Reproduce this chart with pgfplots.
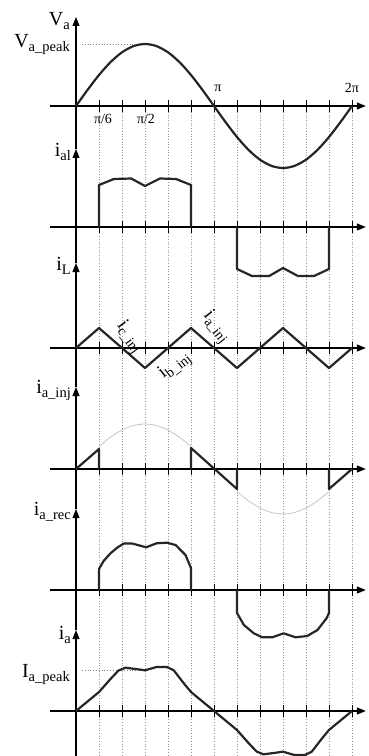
\documentclass[border=0pt]{standalone}
\usepackage{fontspec}
\setmainfont{Liberation Serif}
\usepackage{pgfplots}
\pgfplotsset{compat=1.18}
\usetikzlibrary{arrows.meta}

% one unit of x = pi/6, one unit of y = 1pt
\pgfplotsset{
  panel/.style={
    x=23pt, y=1pt, anchor=origin,
    axis lines=middle, enlargelimits=false, clip=false,
    xmin=-1.13, xmax=12.6,
    xtick={1,...,12}, xticklabels={}, ytick=\empty,
    major tick length=12pt, tick align=center,
    tick style={black, line width=0.9pt},
    axis line style={line width=1.1pt},
    every inner x axis line/.append style={-{Triangle[length=9pt,width=7pt]}},
    every inner y axis line/.append style={-{Triangle[length=9pt,width=7pt]}},
  },
  wave/.style={black!85, line width=2.2pt, line join=round},
  guide/.style={gray, line width=0.8pt, dotted},
}
\newcommand{\lbl}[2]{{\fontsize{20}{20}\selectfont #1}{\fontsize{14.5}{14.5}\selectfont\raisebox{-4pt}{#2}}}
\newcommand{\rlbl}[2]{{\fontsize{19}{19}\selectfont #1}{\fontsize{14}{14}\selectfont\raisebox{-3.5pt}{#2}}}

\begin{document}
\begin{tikzpicture}
\useasboundingbox (0pt,0pt) rectangle (368pt,-756pt);

% dotted grid behind all panels
\begin{axis}[x=23pt, y=1pt, anchor=origin, at={(76pt,-106pt)},
  xmin=-1.13, xmax=12.6, ymin=-660, ymax=0, enlargelimits=false,
  axis line style={draw=none}, xtick={1,...,12}, xticklabels={}, ytick=\empty,
  major tick length=0pt, xmajorgrids,
  major grid style={gray!80, line width=0.7pt, dotted}]
\end{axis}

% V_a
\begin{axis}[panel, at={(76pt,-106pt)}, ymin=-43, ymax=89]
\addplot[guide] coordinates {(0.26,62) (2.5,62)};
\addplot[wave, smooth] coordinates {
  (0,0) (0.5,16.05) (1,31) (1.5,43.84) (2,53.69) (2.5,59.89) (3,62)
  (3.5,59.89) (4,53.69) (4.5,43.84) (5,31) (5.5,16.05) (6,0)
  (6.5,-16.05) (7,-31) (7.5,-43.84) (8,-53.69) (8.5,-59.89) (9,-62)
  (9.5,-59.89) (10,-53.69) (10.5,-43.84) (11,-31) (11.5,-16.05) (12,0)};
\end{axis}

% i_al
\begin{axis}[panel, at={(76pt,-227pt)}, ymin=-36, ymax=78]
\addplot[wave] coordinates {(1,0) (1,42) (1.65,48) (2.4,48.5) (3,41) (3.65,48.5) (4.35,48) (5,42) (5,0)};
\addplot[wave] coordinates {(7,0) (7,-42) (7.65,-49) (8.4,-49) (9,-41) (9.65,-49) (10.35,-49) (11,-42) (11,0)};
\end{axis}

% i_L
\begin{axis}[panel, at={(76pt,-348pt)}, ymin=-39, ymax=85]
\addplot[wave] coordinates {(0,0) (1,20) (3,-20) (5,20) (7,-20) (9,20) (11,-20) (12,0)};
\end{axis}

% i_a_inj
\begin{axis}[panel, at={(76pt,-469pt)}, ymin=-40, ymax=82]
\addplot[gray!45, line width=0.8pt, smooth] coordinates {
  (1,22.5) (1.5,31.82) (2,38.97) (2.5,43.47) (3,45) (3.5,43.47) (4,38.97) (4.5,31.82) (5,22.5)};
\addplot[gray!45, line width=0.8pt, smooth] coordinates {
  (7,-22.5) (7.5,-31.82) (8,-38.97) (8.5,-43.47) (9,-45) (9.5,-43.47) (10,-38.97) (10.5,-31.82) (11,-22.5)};
\addplot[wave] coordinates {(0,0) (1,20) (1,0)};
\addplot[wave] coordinates {(5,0) (5,21) (7,-20) (7,0)};
\addplot[wave] coordinates {(11,0) (11,-20) (12,0)};
\end{axis}

% i_a_rec
\begin{axis}[panel, at={(76pt,-590pt)}, ymin=-40, ymax=81]
\addplot[wave] coordinates {(1,0) (1,21) (1.2,29) (1.5,36.7) (1.8,42.5) (2.08,46.5) (2.44,46.5) (3.05,42.7)
  (3.5,46.7) (3.95,47.3) (4.33,45) (4.76,35) (5,22) (5,0)};
\addplot[wave] coordinates {(7,0) (7,-23) (7.3,-35) (7.73,-43.3) (8.1,-47.3) (8.53,-47.3) (9.03,-43.3)
  (9.54,-47.3) (10.05,-46) (10.5,-40) (10.9,-28) (11,-23) (11,0)};
\end{axis}

% i_a
\begin{axis}[panel, at={(76pt,-711pt)}, ymin=-49, ymax=81]
\addplot[guide] coordinates {(0.26,40.5) (2.9,40.5)};
\addplot[wave] coordinates {(0,0) (1,19) (1.5,32) (1.85,40.5) (2.15,43.3) (2.5,42.3) (3,40.7) (3.5,44)
  (3.95,44) (4.25,40.7) (4.7,27.3) (5,19) (6,0) (7,-19) (7.5,-32) (7.85,-40.5) (8.15,-43.3)
  (8.5,-42.3) (9,-40.7) (9.5,-44) (9.95,-44) (10.25,-40.7) (10.7,-27.3) (11,-19) (12,0)};
\end{axis}

% labels
\node[anchor=base east, inner sep=0pt] at (70pt,-25pt) {\lbl{V}{a}};
\node[anchor=base east, inner sep=0pt] at (70pt,-47pt) {\lbl{V}{a\_peak}};
\node[anchor=base east, inner sep=0pt] at (71pt,-156pt) {\lbl{i}{al}};
\node[anchor=base east, inner sep=0pt] at (71pt,-270pt) {\lbl{i}{L}};
\node[anchor=base east, inner sep=0pt] at (71pt,-393pt) {\lbl{i}{a\_inj}};
\node[anchor=base east, inner sep=0pt] at (71pt,-515pt) {\lbl{i}{a\_rec}};
\node[anchor=base east, inner sep=0pt] at (71pt,-639pt) {\lbl{i}{a}};
\node[anchor=base east, inner sep=0pt] at (70pt,-677pt) {\lbl{I}{a\_peak}};
\node[font=\fontsize{14}{14}\selectfont] at (218pt,-88pt) {π};
\node[font=\fontsize{14}{14}\selectfont] at (352pt,-88pt) {2π};
\node[font=\fontsize{14}{14}\selectfont] at (103pt,-119pt) {π/6};
\node[font=\fontsize{14}{14}\selectfont] at (146pt,-119pt) {π/2};
\node[rotate=-54, inner sep=0pt] at (129pt,-337pt) {\rlbl{i}{c\_inj}};
\node[rotate=38, inner sep=0pt] at (175pt,-366pt) {\rlbl{i}{b\_inj}};
\node[rotate=-52, inner sep=0pt] at (216pt,-327pt) {\rlbl{i}{a\_inj}};
\end{tikzpicture}
\end{document}
